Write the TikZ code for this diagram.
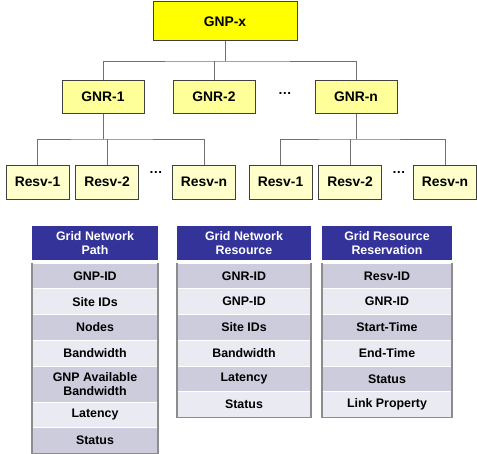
\documentclass[tikz,border=0pt]{standalone}
\usepackage{fontspec}
\setmainfont{Liberation Sans}
\usetikzlibrary{calc}
\definecolor{gnpyellow}{HTML}{FFFF00}
\definecolor{gnryellow}{HTML}{FFFF99}
\definecolor{resvyellow}{HTML}{FFFFCC}
\definecolor{hdrblue}{HTML}{333399}
\definecolor{rowdark}{HTML}{CCCCDD}
\definecolor{rowlight}{HTML}{EAEAF2}
\definecolor{frame}{HTML}{8C8C8C}
\definecolor{wire}{HTML}{707070}
\begin{document}
\begin{tikzpicture}[x=0.75pt,y=-0.75pt,
  treebox/.style={draw=black!75, line width=0.75pt, inner sep=0pt,
    font=\bfseries\fontsize{10.4}{12}\selectfont},
  gnpbox/.style={treebox, fill=gnpyellow, minimum width=108pt, minimum height=29.25pt},
  gnrbox/.style={treebox, fill=gnryellow, minimum width=61.5pt, minimum height=24.75pt},
  resvbox/.style={treebox, fill=resvyellow, minimum width=47.25pt, minimum height=25.5pt},
  wirestyle/.style={draw=wire, line width=0.75pt},
  dots/.style={inner sep=0pt, font=\fontsize{10.2}{12}\selectfont},
  hdr/.style={fill=hdrblue, text=white, align=center, inner sep=0pt, outer sep=0pt,
    minimum height=25.5pt, font=\bfseries\fontsize{9.3}{11}\selectfont},
  cell/.style={draw=white, line width=0.5pt, align=center, inner sep=0pt, outer sep=0pt,
    minimum height=19.3pt, font=\bfseries\fontsize{9.3}{10.8}\selectfont, anchor=north},
  dark/.style={cell, fill=rowdark},
  light/.style={cell, fill=rowlight},
  tall/.style={minimum height=27pt},
  w1/.style={minimum width=94.5pt},
  w2/.style={minimum width=100.5pt},
  w3/.style={minimum width=97.5pt},
  framestyle/.style={draw=frame, line width=1pt}
]
\useasboundingbox (0,0) rectangle (477,453);

% ---- hierarchy ----
\node[gnpbox] (gnp) at (225,21.5) {GNP-x};

\node[gnrbox] (gnr1) at (103,96.5) {GNR-1};
\node[gnrbox] (gnr2) at (214,96.5) {GNR-2};
\node[gnrbox] (gnrn) at (356,96.5) {GNR-n};
\node[dots] (d0) at (285,93) {\textbf{…}};

\node[resvbox] (ra1) at (37.5,182) {Resv-1};
\node[resvbox] (ra2) at (107,182) {Resv-2};
\node[resvbox] (ran) at (204,182) {Resv-n};
\node[dots] (d1) at (156,172) {\textbf{…}};

\node[resvbox] (rb1) at (280.5,182) {Resv-1};
\node[resvbox] (rb2) at (350,182) {Resv-2};
\node[resvbox] (rbn) at (445,182) {Resv-n};
\node[dots] (d2) at (399,172) {\textbf{…}};

% bus lines
\coordinate (bus0) at (225,61);
\coordinate (busa) at (103,139);
\coordinate (busb) at (356,139);

\draw[wirestyle] (gnp.south) -- (bus0);
\draw[wirestyle] (gnr1.north) |- (bus0) -| (gnrn.north);
\draw[wirestyle] (gnr2.north) -- (gnr2.north |- bus0);

\draw[wirestyle] (gnr1.south) -- (busa);
\draw[wirestyle] (ra1.north) |- (busa) -| (ran.north);
\draw[wirestyle] (ra2.north) -- (ra2.north |- busa);

\draw[wirestyle] (gnrn.south) -- (busb);
\draw[wirestyle] (rb1.north) |- (busb) -| (rbn.north);
\draw[wirestyle] (rb2.north) -- (rb2.north |- busb);

% ---- table: Grid Network Path ----
\node[hdr, w1, anchor=north] (pa) at (95,226) {Grid Network\\Path};
\node[dark, w1] (p1) at ($(pa.south)+(0,3)$) {GNP-ID};
\node[light, w1] (p2) at (p1.south) {Site IDs};
\node[dark, w1] (p3) at (p2.south) {Nodes};
\node[light, w1] (p4) at (p3.south) {Bandwidth};
\node[dark, w1, tall] (p5) at (p4.south) {GNP Available\\Bandwidth};
\node[light, w1] (p6) at (p5.south) {Latency};
\node[dark, w1] (p7) at (p6.south) {Status};
\draw[framestyle] (p1.north west) -- (p7.south west) -- (p7.south east) -- (p1.north east);

% ---- table: Grid Network Resource ----
\node[hdr, w2, anchor=north] (ra) at (244,226) {Grid Network\\Resource};
\node[dark, w2] (q1) at ($(ra.south)+(0,3)$) {GNR-ID};
\node[light, w2] (q2) at (q1.south) {GNP-ID};
\node[dark, w2] (q3) at (q2.south) {Site IDs};
\node[light, w2] (q4) at (q3.south) {Bandwidth};
\node[dark, w2] (q5) at (q4.south) {Latency};
\node[light, w2] (q6) at (q5.south) {Status};
\draw[framestyle] (q1.north west) -- (q6.south west) -- (q6.south east) -- (q1.north east);

% ---- table: Grid Resource Reservation ----
\node[hdr, w3, anchor=north] (sa) at (387,226) {Grid Resource\\Reservation};
\node[dark, w3] (s1) at ($(sa.south)+(0,3)$) {Resv-ID};
\node[light, w3] (s2) at (s1.south) {GNR-ID};
\node[dark, w3] (s3) at (s2.south) {Start-Time};
\node[light, w3] (s4) at (s3.south) {End-Time};
\node[dark, w3] (s5) at (s4.south) {Status};
\node[light, w3] (s6) at (s5.south) {Link Property};
\draw[framestyle] (s1.north west) -- (s6.south west) -- (s6.south east) -- (s1.north east);
\end{tikzpicture}
\end{document}
